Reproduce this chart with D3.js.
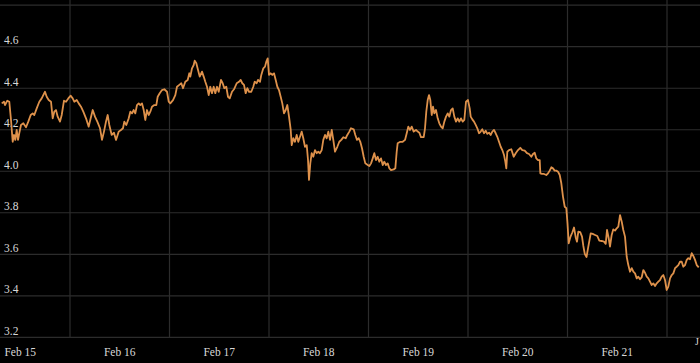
<!DOCTYPE html>
<html>
<head>
<meta charset="utf-8">
<script src="https://cdn.jsdelivr.net/npm/d3@7"></script>
<style>
  html, body { margin: 0; padding: 0; background: #000; }
  svg { display: block; }
</style>
</head>
<body>
<svg width="700" height="363"></svg>
<script>
// hours since Feb 15 00:00
var hours = [7.53,8.08,8.32,8.88,9.36,9.77,10.18,10.49,10.81,11.14,11.46,11.77,12.18,12.74,13.39,13.94,14.52,15.00,15.39,15.97,
  16.60,17.17,17.56,17.97,18.38,18.86,19.42,19.83,20.21,20.62,21.03,21.59,22.00,22.55,23.04,23.59,24.17,24.65,25.04,25.62,
  26.10,26.65,27.21,27.86,28.51,28.99,29.48,30.03,30.59,31.24,31.72,32.20,32.68,33.09,33.48,34.06,34.61,35.10,35.75,36.30,
  36.78,37.10,37.58,38.16,38.55,38.96,39.37,39.75,40.16,40.57,40.96,41.37,41.78,42.16,42.57,42.98,43.37,43.78,44.34,44.82,
  45.15,45.64,46.19,46.75,47.40,47.81,48.19,48.85,49.40,49.81,50.37,50.85,51.26,51.81,52.39,52.78,53.02,53.43,53.84,54.08,
  54.47,54.88,55.29,55.84,56.25,56.64,57.05,57.46,57.84,58.25,58.66,59.05,59.46,59.87,60.42,60.83,61.22,61.70,62.11,62.52,
  63.08,63.56,64.21,64.76,65.17,65.56,65.97,66.38,66.77,67.18,67.73,68.21,68.55,69.03,69.35,69.83,70.14,70.63,71.04,71.35,
  71.69,72.00,72.41,72.80,73.21,73.62,74.01,74.41,74.82,75.21,75.62,76.03,76.42,76.83,77.24,77.48,77.86,78.27,78.68,79.07,
  79.48,79.89,80.27,80.68,81.10,81.41,81.65,81.96,82.30,82.69,83.10,83.51,83.89,84.30,84.71,85.10,85.51,85.92,86.31,86.72,
  87.13,87.51,87.92,88.48,88.96,89.44,89.92,90.50,90.89,91.37,91.78,92.43,92.82,93.23,93.64,94.02,94.43,94.84,95.23,95.81,
  96.20,96.61,97.02,97.40,97.81,98.22,98.61,99.02,99.43,99.81,100.22,100.63,101.02,101.43,102.08,102.47,102.80,103.04,103.67,104.25,
  104.81,105.22,105.60,106.01,106.42,106.90,107.46,107.87,108.26,108.66,109.32,109.63,109.94,110.28,110.60,110.91,111.25,111.56,111.87,112.28,
  112.69,113.08,113.49,113.90,114.29,114.70,115.11,115.49,115.90,116.31,116.70,117.11,117.52,117.90,118.31,118.72,119.11,119.52,120.00,120.41,
  120.65,121.04,121.45,121.86,122.25,122.66,123.07,123.45,123.86,124.27,124.66,125.07,125.48,125.87,126.27,126.68,127.07,127.48,127.89,128.28,
  128.69,129.00,129.24,129.48,129.89,130.45,131.02,131.51,132.06,132.62,133.10,133.68,134.23,134.72,135.27,135.68,136.09,136.48,136.89,137.30,
  137.44,137.85,138.33,138.89,139.30,139.71,140.10,140.50,140.91,141.30,141.71,142.12,142.51,142.92,143.33,143.71,144.00,144.29,144.73,145.16,
  145.57,145.98,146.29,146.61,147.07,147.50,147.82,148.18,148.59,149.02,149.60,150.08,150.64,151.19,151.67,152.25,152.81,153.22,153.53,153.94,
  154.25,154.66,155.05,155.46,155.87,156.26,156.67,157.08,157.46,157.87,158.28,158.67,159.08,159.49,159.88,160.29,160.70,161.08,161.49,161.90,
  162.29,162.70,163.11,163.50,163.90,164.31,164.70,165.11,165.52,165.91,166.31,166.72,167.11,167.52,167.93,168.32,168.73,169.14,169.53,169.94,
  170.34,170.73,171.14,171.55,171.94,172.35,172.76,173.14,173.55,173.96,174.35,174.76,175.17,175.65];

var values = [4.327,4.335,4.319,4.340,4.335,4.247,4.142,4.175,4.151,4.199,4.151,4.184,4.223,4.231,4.212,4.239,4.271,4.279,4.271,4.303,
  4.335,4.351,4.367,4.383,4.359,4.343,4.335,4.255,4.287,4.295,4.263,4.239,4.271,4.340,4.335,4.351,4.364,4.351,4.335,4.343,
  4.327,4.311,4.287,4.255,4.215,4.255,4.295,4.263,4.239,4.207,4.151,4.191,4.239,4.271,4.223,4.175,4.186,4.151,4.191,4.199,
  4.207,4.239,4.223,4.255,4.287,4.279,4.295,4.279,4.319,4.327,4.319,4.327,4.295,4.247,4.295,4.271,4.287,4.311,4.319,4.319,
  4.359,4.376,4.391,4.395,4.383,4.335,4.327,4.343,4.367,4.407,4.416,4.424,4.400,4.431,4.440,4.472,4.456,4.496,4.512,4.533,
  4.520,4.488,4.456,4.480,4.456,4.431,4.407,4.367,4.407,4.376,4.407,4.376,4.407,4.383,4.440,4.424,4.400,4.407,4.359,4.351,
  4.383,4.395,4.424,4.431,4.440,4.424,4.416,4.376,4.400,4.383,4.383,4.407,4.431,4.424,4.440,4.431,4.464,4.496,4.504,4.528,
  4.544,4.464,4.472,4.464,4.472,4.440,4.407,4.391,4.359,4.327,4.279,4.295,4.319,4.263,4.199,4.126,4.159,4.142,4.175,4.142,
  4.166,4.191,4.159,4.118,4.126,4.054,3.958,4.038,4.087,4.070,4.102,4.087,4.094,4.087,4.102,4.151,4.175,4.159,4.191,4.151,
  4.199,4.151,4.094,4.118,4.142,4.151,4.164,4.159,4.175,4.191,4.207,4.202,4.175,4.151,4.159,4.142,4.111,4.070,4.038,4.030,
  4.025,4.038,4.062,4.087,4.054,4.070,4.046,4.062,4.030,4.046,4.030,4.038,4.014,4.006,4.009,4.014,4.094,4.135,4.142,4.142,
  4.151,4.183,4.215,4.199,4.215,4.191,4.199,4.191,4.186,4.164,4.164,4.207,4.287,4.343,4.367,4.343,4.271,4.311,4.279,4.295,
  4.255,4.231,4.215,4.207,4.239,4.263,4.279,4.263,4.295,4.303,4.263,4.239,4.255,4.239,4.255,4.239,4.247,4.335,4.343,4.303,
  4.263,4.250,4.239,4.223,4.207,4.183,4.191,4.202,4.183,4.195,4.180,4.186,4.175,4.191,4.199,4.183,4.166,4.142,4.118,4.102,
  4.078,4.046,4.014,4.094,4.102,4.106,4.070,4.087,4.102,4.113,4.102,4.099,4.087,4.083,4.070,4.083,4.089,4.062,4.054,4.054,
  3.990,3.987,3.987,3.982,3.990,4.003,4.019,4.014,4.003,4.003,3.998,3.982,3.942,3.877,3.829,3.822,3.749,3.653,3.685,3.705,
  3.729,3.681,3.661,3.709,3.707,3.685,3.640,3.601,3.587,3.637,3.701,3.698,3.693,3.688,3.666,3.664,3.661,3.650,3.717,3.677,
  3.637,3.693,3.720,3.714,3.725,3.733,3.789,3.757,3.717,3.685,3.588,3.548,3.516,3.533,3.516,3.508,3.484,3.492,3.480,3.489,
  3.524,3.511,3.492,3.484,3.468,3.452,3.460,3.447,3.460,3.468,3.476,3.492,3.500,3.476,3.428,3.444,3.484,3.500,3.508,3.533,
  3.540,3.548,3.564,3.564,3.540,3.548,3.573,3.581,3.576,3.605,3.592,3.573,3.548,3.537];

var yTicks = [3.2, 3.4, 3.6, 3.8, 4.0, 4.2, 4.4, 4.6, 4.8];
var yLabels = [3.2, 3.4, 3.6, 3.8, 4.0, 4.2, 4.4, 4.6];
var dayLabels = ["Feb 15", "Feb 16", "Feb 17", "Feb 18", "Feb 19", "Feb 20", "Feb 21"];

var base = new Date(2024, 1, 15);
function atHour(h) { return new Date(base.getTime() + h * 36e5); }

var data = hours.map(function(h, i) { return { date: atHour(h), value: values[i] }; });

var svg = d3.select("svg"),
    width = +svg.attr("width"),
    height = +svg.attr("height");

svg.append("rect").attr("width", width).attr("height", height).attr("fill", "#000");

var x = d3.scaleTime()
    .domain([atHour(7.116), atHour(175.96)])
    .range([0, width]);

var y = d3.scaleLinear()
    .domain([3.2, 4.8])
    .range([337.3, 5.2]);

var grid = svg.append("g").attr("stroke", "#2c2c2c").attr("stroke-width", 1.2);

// horizontal grid
grid.selectAll(".h")
    .data(yTicks)
  .enter().append("line")
    .attr("x1", 0).attr("x2", width)
    .attr("y1", function(d) { return y(d); })
    .attr("y2", function(d) { return y(d); });

// vertical grid at midnight
var days = d3.timeDay.range(atHour(7.116), atHour(175.96));
grid.selectAll(".v")
    .data(days)
  .enter().append("line")
    .attr("x1", function(d) { return x(d); })
    .attr("x2", function(d) { return x(d); })
    .attr("y1", 0).attr("y2", y(3.2));

svg.append("g").selectAll("text")
    .data(yLabels)
  .enter().append("text")
    .attr("x", 4)
    .attr("y", function(d) { return y(d) - 2.5; })
    .attr("fill", "#d8d8d8")
    .style("font", "11.5px 'Liberation Serif', 'Times New Roman', serif")
    .text(function(d) { return d.toFixed(1); });

svg.append("g").selectAll("text")
    .data(dayLabels)
  .enter().append("text")
    .attr("x", function(d, i) { return x(atHour(12 + i * 24)); })
    .attr("y", 356)
    .attr("text-anchor", "middle")
    .attr("fill", "#d8d8d8")
    .style("font", "11.5px 'Liberation Serif', 'Times New Roman', serif")
    .text(function(d) { return d; });

// clipped label at the right edge
svg.append("text")
    .attr("x", 695).attr("y", 345)
    .attr("fill", "#d8d8d8")
    .style("font", "10px 'Liberation Serif', 'Times New Roman', serif")
    .text("J");

var line = d3.line()
    .x(function(d) { return x(d.date); })
    .y(function(d) { return y(d.value); });

svg.append("path")
    .datum(data)
    .attr("fill", "none")
    .attr("stroke", "#de914b")
    .attr("stroke-width", 1.8)
    .attr("stroke-linejoin", "round")
    .attr("d", line);
</script>
</body>
</html>
